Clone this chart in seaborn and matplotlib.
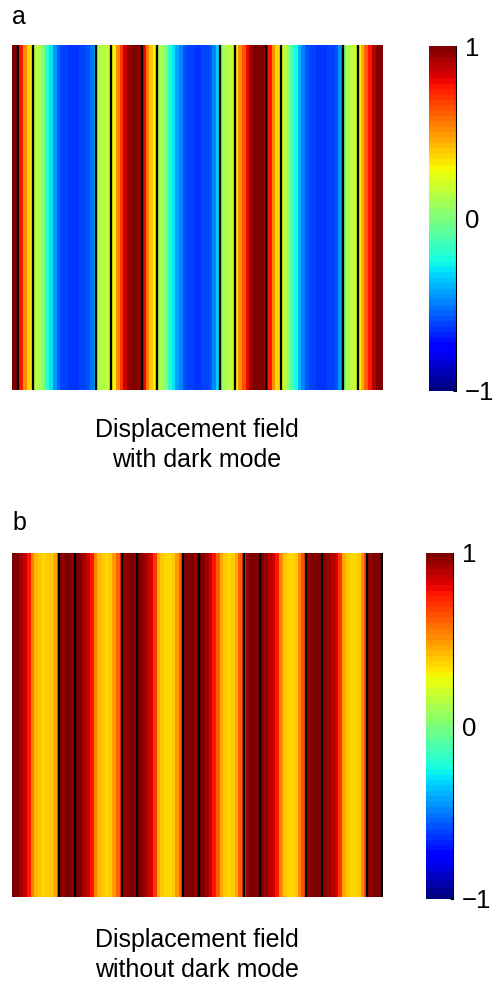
import numpy as np
import matplotlib
matplotlib.use("Agg")
import matplotlib.pyplot as plt
import seaborn as sns

sns.set_style("white")
plt.rcParams['font.family'] = ['Liberation Sans', 'DejaVu Sans']
plt.rcParams['text.color'] = 'black'

# Displacement profile along x (100 columns), panel a: with dark mode
field_a = [1.0, 1.0, 0.75, 0.5, 0.35, 0.3, 0.15, 0.1, 0.0, -0.2,
           -0.3, -0.45, -0.55, -0.6, -0.62, -0.65, -0.65, -0.65, -0.62, -0.6,
           -0.58, -0.52, -0.4, 0.1, 0.15, 0.15, 0.2, 0.3, 0.5, 0.7,
           0.85, 0.95, 1.0, 1.0, 0.95, 0.8, 0.55, 0.4, 0.3, 0.15,
           0.1, 0.0, -0.2, -0.3, -0.42, -0.5, -0.57, -0.6, -0.62, -0.65,
           -0.65, -0.62, -0.6, -0.57, -0.5, -0.32, 0.05, 0.1, 0.15, 0.2,
           0.3, 0.5, 0.65, 0.8, 0.95, 1.0, 1.0, 1.0, 0.9, 0.75,
           0.5, 0.35, 0.25, 0.15, 0.05, -0.1, -0.25, -0.38, -0.5, -0.57,
           -0.6, -0.62, -0.65, -0.65, -0.65, -0.62, -0.6, -0.57, -0.45, 0.0,
           0.1, 0.15, 0.2, 0.3, 0.45, 0.6, 0.75, 0.9, 1.0, 1.0]

# panel b: without dark mode
field_b = [1.0, 0.97, 0.92, 0.85, 0.75, 0.55, 0.42, 0.38, 0.37, 0.38,
           0.4, 0.45, 0.6, 0.95, 0.97, 0.97, 0.95, 0.97, 0.97, 0.93,
           0.87, 0.75, 0.55, 0.42, 0.38, 0.37, 0.4, 0.48, 0.6, 0.7,
           0.95, 0.97, 0.97, 0.95, 0.97, 0.95, 0.9, 0.82, 0.7, 0.45,
           0.4, 0.37, 0.37, 0.4, 0.48, 0.62, 0.95, 0.97, 0.97, 0.95,
           0.97, 0.97, 0.93, 0.87, 0.78, 0.6, 0.45, 0.38, 0.37, 0.38,
           0.45, 0.6, 0.7, 0.95, 0.97, 0.97, 0.95, 0.97, 0.95, 0.9,
           0.85, 0.75, 0.5, 0.4, 0.37, 0.37, 0.4, 0.5, 0.65, 0.95,
           0.97, 0.97, 0.97, 0.95, 0.97, 0.93, 0.88, 0.82, 0.7, 0.45,
           0.4, 0.37, 0.37, 0.4, 0.5, 0.65, 0.95, 0.97, 0.97, 0.97]

# Interface positions (in column units)
lines_a = [1.62, 5.68, 22.7, 26.76, 35.14, 39.19, 55.95, 60.0, 68.38, 72.43, 89.19, 93.24]
lines_b = [12.7, 17.03, 29.73, 33.78, 46.22, 50.27, 62.43, 66.76, 79.19, 83.51, 95.68, 99.7]

cbar_ticks = [-1, 0, 1]
cbar_labels = ["\u22121", "0", "1"]
panel_labels = ["a", "b"]
captions = ["Displacement field\nwith dark mode", "Displacement field\nwithout dark mode"]

W, H = 498, 990
fig = plt.figure(figsize=(W / 100, H / 100), dpi=100)

def fr(x0, y0, x1, y1):
    return [x0 / W, 1 - y1 / H, (x1 - x0) / W, (y1 - y0) / H]

cmap = plt.get_cmap('jet', 64)

layouts = [
    dict(hm=(12, 45, 383, 390), cb=(429, 46, 456, 391), lab=(12, 17), cap=(197, 445)),
    dict(hm=(12, 553, 383, 897), cb=(426, 553, 453, 899), lab=(12, 523), cap=(197, 955)),
]

for field, lines, lay, plab, cap in zip([field_a, field_b], [lines_a, lines_b],
                                        layouts, panel_labels, captions):
    ax = fig.add_axes(fr(*lay['hm']))
    cax = fig.add_axes(fr(*lay['cb']))
    data = np.array([field])
    sns.heatmap(data, ax=ax, cmap=cmap, vmin=-1, vmax=1, cbar_ax=cax,
                xticklabels=False, yticklabels=False)
    for xl in lines:
        ax.axvline(xl, color='black', lw=1.7)
    ax.set_xlim(0, len(field))
    cb = ax.collections[0].colorbar
    cb.set_ticks(cbar_ticks)
    cb.set_ticklabels(cbar_labels)
    cb.outline.set_visible(False)
    cax.plot([1, 1], [0, 1], transform=cax.transAxes, color='black', lw=0.8, clip_on=False)
    cax.tick_params(direction='in', length=2.5, width=0.8, pad=6.5, labelsize=18.5,
                    right=True, colors='black')
    fig.text(lay['lab'][0] / W, 1 - lay['lab'][1] / H, plab, fontsize=18,
             ha='left', va='center')
    fig.text(lay['cap'][0] / W, 1 - lay['cap'][1] / H, cap, fontsize=18,
             ha='center', va='center', linespacing=1.3)

fig.savefig("out.png", dpi=100)
